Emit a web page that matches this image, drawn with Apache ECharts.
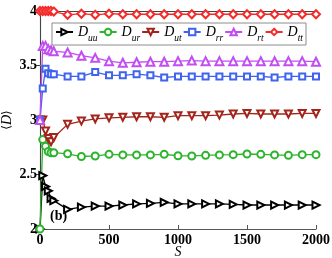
<!DOCTYPE html>
<html>
<head>
<meta charset="utf-8">
<script src="https://cdn.jsdelivr.net/npm/echarts@6/dist/echarts.min.js"></script>
<style>html,body{margin:0;padding:0;background:#fff}#c{width:332px;height:258px}</style>
</head>
<body>
<div id="c"></div>
<script>
const S = [0, 20, 40, 60, 80, 100, 200, 300, 400, 500, 600, 700, 800, 900, 1000, 1100, 1200, 1300, 1400, 1500, 1600, 1700, 1800, 1900, 2000];
const Duu = [2.00, 2.49, 2.39, 2.35, 2.28, 2.26, 2.18, 2.20, 2.21, 2.21, 2.22, 2.23, 2.235, 2.245, 2.23, 2.23, 2.23, 2.23, 2.225, 2.22, 2.22, 2.22, 2.22, 2.22, 2.22];
const Dur = [2.00, 2.82, 2.76, 2.71, 2.70, 2.70, 2.69, 2.665, 2.67, 2.685, 2.68, 2.68, 2.68, 2.685, 2.672, 2.67, 2.676, 2.68, 2.682, 2.688, 2.685, 2.68, 2.676, 2.682, 2.682];
const Dut = [3.00, 3.00, 2.90, 2.83, 2.80, 2.84, 2.96, 2.99, 3.01, 3.02, 3.025, 3.03, 3.03, 3.025, 3.04, 3.04, 3.04, 3.045, 3.055, 3.06, 3.055, 3.055, 3.055, 3.06, 3.06];
const Drr = [3.00, 3.29, 3.47, 3.43, 3.42, 3.42, 3.40, 3.40, 3.44, 3.41, 3.41, 3.42, 3.41, 3.39, 3.40, 3.40, 3.40, 3.40, 3.40, 3.40, 3.40, 3.39, 3.40, 3.40, 3.40];
const Drt = [3.00, 3.68, 3.68, 3.65, 3.64, 3.63, 3.62, 3.59, 3.57, 3.54, 3.525, 3.53, 3.535, 3.535, 3.54, 3.545, 3.54, 3.54, 3.54, 3.54, 3.54, 3.54, 3.54, 3.54, 3.535];
const Dtt = [4.00, 4.00, 4.00, 4.00, 4.00, 3.995, 3.965, 3.975, 3.965, 3.975, 3.97, 3.97, 3.97, 3.97, 3.97, 3.97, 3.97, 3.97, 3.97, 3.97, 3.97, 3.97, 3.97, 3.97, 3.97];
const xTicks = [0, 500, 1000, 1500, 2000];
const yTicks = [2, 2.5, 3, 3.5, 4];

const names = ['uu', 'ur', 'ut', 'rr', 'rt', 'tt'];
const values = [Duu, Dur, Dut, Drr, Drt, Dtt];
const colors = ['#000000', '#2db42d', '#a3241b', '#3f63ee', '#c24ef2', '#f52a2a'];
const symbols = ['emptyTriangle', 'emptyCircle', 'emptyTriangle', 'emptyRect', 'emptyTriangle', 'emptyDiamond'];
const rotates = [-90, 0, 180, 0, 0, 0];
const sizes = [7, 7, 7, 6, 8, 8];

const serif = '"Liberation Serif", "DejaVu Serif", serif';
const chart = echarts.init(document.getElementById('c'), null, {renderer: 'canvas'});

const series = names.map((n, i) => ({
  name: n,
  type: 'line',
  data: S.map((s, k) => [s, values[i][k]]),
  symbol: symbols[i],
  symbolSize: sizes[i],
  symbolRotate: rotates[i],
  showAllSymbol: true,
  clip: false,
  lineStyle: {color: colors[i], width: 1.3},
  itemStyle: {color: colors[i], borderWidth: 1.2},
  emphasis: {disabled: true},
  animation: false
}));

const tickLabel = {fontFamily: serif, fontWeight: 'bold', fontSize: 14, color: '#000', formatter: v => String(v)};

chart.setOption({
  animation: false,
  grid: {left: 40, right: 16, top: 11, bottom: 29, containLabel: false, outerBoundsMode: 'none'},
  legend: {
    data: names,
    left: 52, top: 23,
    width: 280,
    orient: 'horizontal',
    padding: [2, 3, 2, 3],
    itemGap: 1,
    itemWidth: 17,
    itemHeight: 8,
    borderColor: '#8c8c8c',
    borderWidth: 1,
    backgroundColor: '#fff',
    selectedMode: false,
    formatter: n => '{d|D}{s|' + n + '}',
    textStyle: {
      rich: {
        d: {fontFamily: serif, fontStyle: 'italic', fontSize: 14, color: '#000', lineHeight: 18, verticalAlign: 'middle'},
        s: {fontFamily: serif, fontStyle: 'italic', fontSize: 9.5, color: '#000', lineHeight: 12, verticalAlign: 'bottom', padding: [0, 0, -2, 0]}
      }
    }
  },
  xAxis: [{
    type: 'value', min: xTicks[0], max: xTicks[xTicks.length - 1], interval: xTicks[1] - xTicks[0],
    name: 'S', nameLocation: 'middle', nameGap: 16, nameMoveOverlap: false,
    nameTextStyle: {fontFamily: serif, fontStyle: 'italic', fontSize: 14, color: '#000'},
    axisLine: {lineStyle: {color: '#555', width: 1}},
    axisTick: {inside: true, length: 4, lineStyle: {color: '#555'}},
    axisLabel: Object.assign({margin: 4}, tickLabel),
    splitLine: {show: false}
  }, {
    type: 'value', position: 'top', min: xTicks[0], max: xTicks[xTicks.length - 1], interval: xTicks[1] - xTicks[0],
    axisLine: {lineStyle: {color: '#444', width: 1}},
    axisTick: {inside: true, length: 4, lineStyle: {color: '#444'}},
    axisLabel: {show: false}, splitLine: {show: false}
  }],
  yAxis: [{
    type: 'value', min: yTicks[0], max: yTicks[yTicks.length - 1], interval: yTicks[1] - yTicks[0],
    name: '{a|⟨}{d|D}{a|⟩}', nameLocation: 'middle', nameGap: 26, nameMoveOverlap: false,
    nameTextStyle: {rich: {
      a: {fontFamily: '"DejaVu Serif", serif', fontSize: 12, color: '#000'},
      d: {fontFamily: serif, fontStyle: 'italic', fontSize: 14, color: '#000'}
    }},
    axisLine: {lineStyle: {color: '#888', width: 1.2}},
    axisTick: {inside: true, length: 4, lineStyle: {color: '#888'}},
    axisLabel: Object.assign({margin: 3}, tickLabel),
    splitLine: {show: false}
  }, {
    type: 'value', position: 'right', min: yTicks[0], max: yTicks[yTicks.length - 1], interval: yTicks[1] - yTicks[0],
    axisLine: {show: true, lineStyle: {color: '#444', width: 1}},
    axisTick: {show: true, inside: true, length: 4, lineStyle: {color: '#444'}},
    axisLabel: {show: false}, splitLine: {show: false}
  }],
  graphic: [{
    type: 'text', left: 50, top: 209,
    style: {text: '(b)', font: 'bold 14px ' + serif, fill: '#000'}
  }],
  series: series
});
</script>
</body>
</html>
